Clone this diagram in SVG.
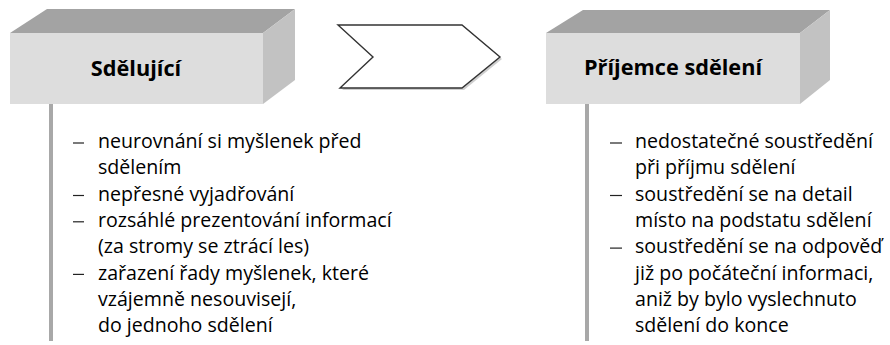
<svg xmlns="http://www.w3.org/2000/svg" width="890" height="345" viewBox="0 0 890 345">
<style>
.top{fill:#a3a3a3}
.front{fill:#dddddd}
.side{fill:#c2c2c2}
.title{font-family:"Open Sans","Liberation Sans",sans-serif;font-weight:bold;font-size:21.7px;fill:#000;text-anchor:middle}
.item{font-family:"Open Sans","Liberation Sans",sans-serif;font-size:19.6px;fill:#000}
.stem{stroke:#a8a8a8;stroke-width:4;fill:none}
.dash{stroke:#222;stroke-width:1.2}
</style>
<rect width="890" height="345" fill="#ffffff"/>
<g id="sdelujici">
<polygon class="top" points="10,33 47,9 295,9 263,33"/>
<polygon class="side" points="263,33 295,9 295,80 263,104"/>
<rect class="front" x="10" y="33" width="253" height="71"/>
<text class="title" x="136" y="76">Sdělující</text>
</g>
<g id="prijemce">
<polygon class="top" points="546,33 583,10 830,10 800,33"/>
<polygon class="side" points="800,33 830,10 830,80 800,104"/>
<rect class="front" x="546" y="33" width="254" height="71"/>
<text class="title" x="673" y="75">Příjemce sdělení</text>
</g>
<g id="sipka">
<polygon points="340,27 464,27 502,59 464,90 342,90 375,59" fill="#bbbbbb" opacity="0.7"/>
<polygon points="338,25 462,25 500,57 462,88 340,88 373,57" fill="#ffffff" stroke="#333" stroke-width="1.4" stroke-linejoin="miter"/>
</g>
<g id="connectors">
<line class="stem" x1="51" y1="104" x2="51" y2="341"/>
<line class="stem" x1="587" y1="104" x2="587" y2="341"/>
</g>
<g id="seznam-vlevo">
<line class="dash" x1="73" y1="143" x2="84" y2="143"/>
<line class="dash" x1="73" y1="195.5" x2="84" y2="195.5"/>
<line class="dash" x1="73" y1="221.8" x2="84" y2="221.8"/>
<line class="dash" x1="73" y1="274.4" x2="84" y2="274.4"/>
<text class="item" x="98" y="148">neurovnání si myšlenek před</text>
<text class="item" x="98" y="174.3">sdělením</text>
<text class="item" x="98" y="200.6">nepřesné vyjadřování</text>
<text class="item" x="98" y="226.9">rozsáhlé prezentování informací</text>
<text class="item" x="98" y="253.2">(za stromy se ztrácí les)</text>
<text class="item" x="98" y="279.5">zařazení řady myšlenek, které</text>
<text class="item" x="98" y="305.8">vzájemně nesouvisejí,</text>
<text class="item" x="98" y="332.1">do jednoho sdělení</text>
</g>
<g id="seznam-vpravo">
<line class="dash" x1="610" y1="143" x2="622" y2="143"/>
<line class="dash" x1="610" y1="195.5" x2="622" y2="195.5"/>
<line class="dash" x1="610" y1="248.1" x2="622" y2="248.1"/>
<text class="item" x="635" y="148">nedostatečné soustředění</text>
<text class="item" x="635" y="174.3">při příjmu sdělení</text>
<text class="item" x="635" y="200.6">soustředění se na detail</text>
<text class="item" x="635" y="226.9">místo na podstatu sdělení</text>
<text class="item" x="635" y="253.2">soustředění se na odpověď</text>
<text class="item" x="635" y="279.5">již po počáteční informaci,</text>
<text class="item" x="635" y="305.8">aniž by bylo vyslechnuto</text>
<text class="item" x="635" y="332.1">sdělení do konce</text>
</g>
</svg>
